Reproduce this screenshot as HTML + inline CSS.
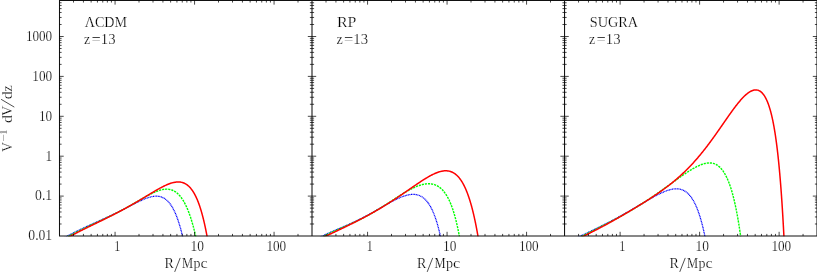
<!DOCTYPE html>
<html><head><meta charset="utf-8"><title>chart</title>
<style>html,body{margin:0;padding:0;background:#fff;overflow:hidden}body{width:817px;height:272px;font-family:"Liberation Serif",serif}.t,.t text,.t tspan{font-family:"Liberation Serif",serif}</style>
</head><body>
<svg width="817" height="272" viewBox="0 0 817 272" style="display:block">
<rect width="817" height="272" fill="#fff"/>
<clipPath id="c"><rect x="59.5" y="0" width="757.5" height="236.3"/></clipPath>
<g clip-path="url(#c)" fill="none">
<path d="M58.90 240.45 L59.51 240.12 L60.13 239.78 L60.74 239.45 L61.36 239.11 L61.97 238.78 L62.59 238.45 L63.20 238.12 L63.82 237.79 L64.44 237.46 L65.06 237.13 L65.68 236.80 L66.30 236.48 L66.92 236.16 L67.54 235.83 L68.16 235.51 L68.78 235.19 L69.40 234.87 L70.03 234.55 L70.65 234.24 L71.27 233.92 L71.90 233.60 L72.52 233.29 L73.15 232.98 L73.78 232.67 L74.40 232.36 L75.03 232.05 L75.66 231.74 L76.29 231.43 L76.92 231.13 L77.55 230.82 L78.18 230.52 L78.81 230.21 L79.44 229.91 L80.07 229.61 L80.70 229.31 L81.34 229.01 L81.97 228.71 L82.60 228.42 L83.24 228.12 L83.87 227.82 L84.51 227.53 L85.14 227.23 L85.78 226.94 L86.41 226.65 L87.05 226.36 L87.68 226.06 L88.32 225.77 L88.96 225.48 L89.59 225.19 L90.23 224.90 L90.87 224.61 L91.51 224.33 L92.14 224.04 L92.78 223.75 L93.42 223.46 L94.06 223.17 L94.70 222.89 L95.33 222.60 L95.97 222.31 L96.61 222.02 L97.25 221.74 L97.89 221.45 L98.53 221.16 L99.16 220.87 L99.80 220.59 L100.44 220.30 L101.08 220.01 L101.72 219.72 L102.35 219.43 L102.99 219.14 L103.63 218.85 L104.26 218.56 L104.90 218.27 L105.54 217.98 L106.17 217.69 L106.81 217.39 L107.45 217.10 L108.08 216.80 L108.72 216.51 L109.35 216.21 L109.98 215.92 L110.62 215.62 L111.25 215.32 L111.88 215.02 L112.52 214.72 L113.15 214.42 L113.78 214.12 L114.41 213.81 L115.04 213.51 L115.67 213.20 L116.30 212.90 L116.93 212.59 L117.56 212.28 L118.19 211.97 L118.82 211.66 L119.44 211.35 L120.07 211.04 L120.70 210.73 L121.32 210.41 L121.95 210.10 L122.57 209.79 L123.20 209.47 L123.82 209.15 L124.45 208.84 L125.07 208.52 L125.70 208.20 L126.32 207.88 L126.94 207.56 L127.57 207.24 L128.19 206.92 L128.81 206.60 L129.43 206.28 L130.06 205.96 L130.68 205.64 L131.30 205.32 L131.92 205.00 L132.55 204.68 L133.17 204.36 L133.79 204.05 L134.42 203.73 L135.04 203.42 L135.67 203.10 L136.29 202.79 L136.92 202.48 L137.55 202.17 L138.18 201.86 L138.81 201.56 L139.44 201.26 L140.07 200.96 L140.70 200.66 L141.34 200.37 L141.98 200.09 L142.62 199.80 L143.26 199.53 L143.90 199.26 L144.55 198.99 L145.20 198.73 L145.85 198.48 L146.50 198.23 L147.16 198.00 L147.82 197.77 L148.48 197.56 L149.15 197.35 L149.82 197.16 L150.50 196.98 L151.17 196.81 L151.86 196.66 L152.54 196.53 L153.23 196.42 L153.92 196.32 L154.62 196.25 L155.31 196.20 L156.01 196.17 L156.71 196.18 L157.41 196.20 L158.11 196.26 L158.81 196.35 L159.50 196.47 L160.19 196.63 L160.87 196.82 L161.54 197.04 L162.19 197.29 L162.84 197.58 L163.47 197.89 L164.09 198.24 L164.70 198.62 L165.28 199.02 L165.85 199.44 L166.40 199.89 L166.94 200.36 L167.46 200.84 L167.96 201.35 L168.44 201.87 L168.91 202.40 L169.37 202.95 L169.81 203.50 L170.24 204.07 L170.65 204.65 L171.05 205.24 L171.44 205.83 L171.82 206.43 L172.19 207.04 L172.55 207.65 L172.90 208.27 L173.23 208.89 L173.56 209.52 L173.89 210.15 L174.20 210.78 L174.51 211.42 L174.81 212.06 L175.10 212.71 L175.38 213.36 L175.66 214.01 L175.93 214.66 L176.20 215.31 L176.46 215.97 L176.72 216.63 L176.97 217.29 L177.22 217.95 L177.46 218.61 L177.70 219.28 L177.93 219.95 L178.16 220.61 L178.38 221.28 L178.60 221.95 L178.82 222.62 L179.03 223.30 L179.24 223.97 L179.45 224.64 L179.65 225.32 L179.85 226.00 L180.05 226.67 L180.25 227.35 L180.44 228.03 L180.63 228.71 L180.81 229.39 L180.99 230.07 L181.18 230.75 L181.35 231.43 L181.53 232.11 L181.70 232.80 L181.87 233.48 L182.04 234.16 L182.21 234.85 L182.38 235.53 L182.54 236.22 L182.70 236.90 L182.86 237.59 L183.02 238.27 L183.17 238.96 L183.32 239.65 L183.48 240.33 L183.63 241.02" stroke="#0000ff" stroke-width="1.25" stroke-dasharray="1.05 0.55"/>
<path d="M59.80 241.19 L60.40 240.83 L61.01 240.48 L61.61 240.13 L62.22 239.78 L62.83 239.43 L63.43 239.09 L64.04 238.74 L64.65 238.40 L65.26 238.06 L65.87 237.72 L66.48 237.38 L67.10 237.04 L67.71 236.71 L68.33 236.37 L68.94 236.04 L69.56 235.71 L70.17 235.38 L70.79 235.05 L71.41 234.72 L72.03 234.40 L72.65 234.07 L73.27 233.75 L73.89 233.43 L74.51 233.11 L75.14 232.79 L75.76 232.47 L76.38 232.16 L77.01 231.84 L77.64 231.53 L78.26 231.22 L78.89 230.91 L79.52 230.60 L80.14 230.29 L80.77 229.98 L81.40 229.67 L82.03 229.37 L82.66 229.06 L83.29 228.76 L83.92 228.46 L84.55 228.15 L85.18 227.85 L85.82 227.55 L86.45 227.25 L87.08 226.96 L87.72 226.66 L88.35 226.36 L88.98 226.06 L89.62 225.77 L90.25 225.47 L90.89 225.18 L91.52 224.88 L92.16 224.59 L92.79 224.29 L93.43 224.00 L94.06 223.70 L94.70 223.41 L95.33 223.12 L95.97 222.82 L96.60 222.53 L97.24 222.23 L97.87 221.94 L98.51 221.65 L99.14 221.35 L99.78 221.06 L100.41 220.76 L101.05 220.47 L101.68 220.17 L102.32 219.88 L102.95 219.58 L103.59 219.28 L104.22 218.98 L104.85 218.68 L105.49 218.39 L106.12 218.09 L106.75 217.78 L107.38 217.48 L108.01 217.18 L108.64 216.88 L109.27 216.57 L109.91 216.27 L110.53 215.96 L111.16 215.65 L111.79 215.34 L112.42 215.03 L113.05 214.72 L113.67 214.41 L114.30 214.10 L114.93 213.78 L115.55 213.47 L116.18 213.15 L116.80 212.83 L117.42 212.51 L118.05 212.19 L118.67 211.87 L119.29 211.55 L119.91 211.22 L120.53 210.90 L121.15 210.57 L121.77 210.24 L122.39 209.91 L123.00 209.58 L123.62 209.25 L124.23 208.91 L124.85 208.58 L125.46 208.24 L126.08 207.90 L126.69 207.56 L127.30 207.22 L127.91 206.88 L128.53 206.54 L129.14 206.20 L129.75 205.85 L130.36 205.51 L130.96 205.16 L131.57 204.82 L132.18 204.47 L132.79 204.12 L133.40 203.77 L134.00 203.42 L134.61 203.07 L135.21 202.72 L135.82 202.37 L136.43 202.02 L137.03 201.67 L137.64 201.32 L138.24 200.97 L138.85 200.62 L139.45 200.26 L140.06 199.91 L140.67 199.56 L141.27 199.21 L141.88 198.86 L142.48 198.52 L143.09 198.17 L143.70 197.82 L144.31 197.48 L144.92 197.14 L145.53 196.79 L146.14 196.46 L146.75 196.12 L147.37 195.78 L147.98 195.45 L148.60 195.12 L149.22 194.80 L149.84 194.47 L150.46 194.16 L151.09 193.84 L151.71 193.53 L152.34 193.23 L152.97 192.93 L153.61 192.64 L154.24 192.35 L154.88 192.07 L155.52 191.80 L156.17 191.53 L156.82 191.28 L157.47 191.03 L158.13 190.79 L158.79 190.57 L159.46 190.36 L160.12 190.16 L160.80 189.97 L161.47 189.80 L162.16 189.65 L162.84 189.51 L163.53 189.40 L164.22 189.30 L164.92 189.23 L165.61 189.18 L166.31 189.16 L167.01 189.16 L167.71 189.19 L168.41 189.25 L169.11 189.34 L169.80 189.46 L170.48 189.61 L171.16 189.80 L171.84 190.01 L172.50 190.26 L173.15 190.54 L173.78 190.85 L174.40 191.19 L175.01 191.55 L175.61 191.94 L176.18 192.35 L176.74 192.79 L177.29 193.24 L177.82 193.71 L178.34 194.20 L178.84 194.71 L179.32 195.22 L179.79 195.76 L180.25 196.30 L180.69 196.85 L181.12 197.42 L181.54 197.99 L181.95 198.57 L182.35 199.16 L182.74 199.75 L183.11 200.35 L183.48 200.96 L183.84 201.57 L184.19 202.19 L184.53 202.81 L184.86 203.43 L185.18 204.06 L185.50 204.69 L185.81 205.33 L186.12 205.97 L186.41 206.61 L186.71 207.25 L186.99 207.90 L187.27 208.55 L187.55 209.20 L187.82 209.85 L188.08 210.50 L188.34 211.16 L188.60 211.82 L188.85 212.48 L189.09 213.14 L189.34 213.80 L189.57 214.47 L189.81 215.13 L190.04 215.80 L190.27 216.47 L190.49 217.14 L190.71 217.81 L190.93 218.48 L191.14 219.15 L191.35 219.82 L191.56 220.49 L191.76 221.17 L191.97 221.84 L192.16 222.52 L192.36 223.20 L192.56 223.87 L192.75 224.55 L192.94 225.23 L193.12 225.91 L193.31 226.59 L193.49 227.27 L193.67 227.95 L193.85 228.63 L194.02 229.31 L194.20 229.99 L194.37 230.67 L194.54 231.36 L194.71 232.04 L194.87 232.72 L195.04 233.41 L195.20 234.09 L195.36 234.78 L195.52 235.46 L195.68 236.15 L195.84 236.83 L195.99 237.52 L196.14 238.21 L196.29 238.89 L196.44 239.58 L196.59 240.27 L196.74 240.95" stroke="#00ff00" stroke-width="1.4" stroke-dasharray="2.15 0.95"/>
<path d="M65.00 239.17 L65.61 238.83 L66.22 238.48 L66.83 238.14 L67.44 237.80 L68.05 237.46 L68.66 237.12 L69.27 236.78 L69.89 236.45 L70.50 236.11 L71.12 235.78 L71.73 235.45 L72.35 235.12 L72.97 234.79 L73.58 234.46 L74.20 234.13 L74.82 233.81 L75.44 233.48 L76.06 233.16 L76.68 232.84 L77.31 232.52 L77.93 232.20 L78.55 231.88 L79.17 231.56 L79.80 231.24 L80.42 230.93 L81.05 230.61 L81.67 230.30 L82.30 229.98 L82.92 229.67 L83.55 229.36 L84.18 229.05 L84.80 228.74 L85.43 228.43 L86.06 228.12 L86.69 227.81 L87.31 227.50 L87.94 227.19 L88.57 226.88 L89.20 226.58 L89.83 226.27 L90.46 225.96 L91.09 225.66 L91.72 225.35 L92.35 225.04 L92.98 224.74 L93.61 224.43 L94.24 224.13 L94.87 223.82 L95.50 223.52 L96.13 223.21 L96.76 222.91 L97.39 222.60 L98.02 222.30 L98.65 221.99 L99.28 221.69 L99.91 221.38 L100.53 221.07 L101.16 220.77 L101.79 220.46 L102.42 220.15 L103.05 219.85 L103.68 219.54 L104.31 219.23 L104.94 218.92 L105.57 218.61 L106.19 218.30 L106.82 217.99 L107.45 217.68 L108.08 217.37 L108.70 217.06 L109.33 216.75 L109.96 216.43 L110.58 216.12 L111.21 215.80 L111.83 215.49 L112.46 215.17 L113.08 214.85 L113.70 214.54 L114.33 214.22 L114.95 213.90 L115.57 213.58 L116.20 213.26 L116.82 212.93 L117.44 212.61 L118.06 212.29 L118.68 211.96 L119.30 211.64 L119.92 211.31 L120.54 210.98 L121.16 210.65 L121.77 210.32 L122.39 209.99 L123.01 209.66 L123.62 209.33 L124.24 208.99 L124.85 208.66 L125.47 208.32 L126.08 207.98 L126.69 207.64 L127.31 207.30 L127.92 206.96 L128.53 206.62 L129.14 206.28 L129.75 205.94 L130.36 205.59 L130.97 205.25 L131.58 204.90 L132.19 204.55 L132.80 204.21 L133.40 203.86 L134.01 203.51 L134.62 203.15 L135.22 202.80 L135.83 202.45 L136.43 202.10 L137.03 201.74 L137.64 201.39 L138.24 201.03 L138.84 200.67 L139.44 200.32 L140.05 199.96 L140.65 199.60 L141.25 199.24 L141.85 198.88 L142.45 198.52 L143.05 198.16 L143.65 197.80 L144.25 197.44 L144.85 197.08 L145.45 196.71 L146.05 196.35 L146.65 195.99 L147.25 195.63 L147.85 195.27 L148.44 194.90 L149.04 194.54 L149.64 194.18 L150.24 193.82 L150.84 193.46 L151.44 193.10 L152.04 192.74 L152.65 192.39 L153.25 192.03 L153.85 191.67 L154.45 191.32 L155.06 190.96 L155.66 190.61 L156.27 190.26 L156.87 189.91 L157.48 189.57 L158.09 189.22 L158.70 188.88 L159.31 188.54 L159.92 188.21 L160.54 187.88 L161.16 187.55 L161.78 187.22 L162.40 186.90 L163.02 186.58 L163.64 186.27 L164.27 185.97 L164.90 185.67 L165.54 185.37 L166.17 185.08 L166.81 184.80 L167.45 184.53 L168.10 184.26 L168.75 184.01 L169.40 183.76 L170.06 183.53 L170.72 183.31 L171.39 183.09 L172.06 182.90 L172.73 182.72 L173.41 182.55 L174.09 182.40 L174.77 182.27 L175.46 182.16 L176.16 182.08 L176.85 182.01 L177.55 181.97 L178.25 181.96 L178.95 181.98 L179.65 182.03 L180.35 182.11 L181.04 182.22 L181.73 182.36 L182.41 182.54 L183.08 182.76 L183.74 183.00 L184.39 183.28 L185.03 183.59 L185.65 183.93 L186.26 184.30 L186.85 184.70 L187.42 185.12 L187.97 185.56 L188.51 186.03 L189.03 186.51 L189.53 187.02 L190.02 187.53 L190.49 188.07 L190.95 188.61 L191.39 189.17 L191.82 189.73 L192.24 190.31 L192.64 190.90 L193.03 191.49 L193.41 192.09 L193.78 192.70 L194.14 193.31 L194.48 193.93 L194.82 194.55 L195.15 195.18 L195.47 195.81 L195.79 196.44 L196.09 197.08 L196.39 197.73 L196.68 198.37 L196.97 199.02 L197.25 199.67 L197.52 200.32 L197.78 200.98 L198.05 201.63 L198.30 202.29 L198.55 202.95 L198.80 203.62 L199.04 204.28 L199.27 204.95 L199.50 205.61 L199.73 206.28 L199.95 206.95 L200.17 207.62 L200.39 208.30 L200.60 208.97 L200.81 209.64 L201.01 210.32 L201.22 210.99 L201.41 211.67 L201.61 212.35 L201.80 213.03 L201.99 213.71 L202.18 214.39 L202.36 215.07 L202.54 215.75 L202.72 216.43 L202.90 217.11 L203.07 217.79 L203.24 218.48 L203.41 219.16 L203.58 219.84 L203.75 220.53 L203.91 221.21 L204.07 221.90 L204.23 222.59 L204.39 223.27 L204.54 223.96 L204.69 224.64 L204.84 225.33 L204.99 226.02 L205.14 226.71 L205.29 227.40 L205.43 228.08 L205.58 228.77 L205.72 229.46 L205.86 230.15 L206.00 230.84 L206.13 231.53 L206.27 232.22 L206.40 232.91 L206.54 233.60 L206.67 234.29 L206.80 234.98 L206.93 235.68 L207.05 236.37 L207.18 237.06 L207.31 237.75 L207.43 238.44 L207.55 239.13 L207.68 239.83 L207.80 240.52 L207.92 241.21" stroke="#ff0000" stroke-width="1.5"/>
<path d="M314.50 240.49 L315.09 240.13 L315.69 239.77 L316.29 239.41 L316.90 239.06 L317.50 238.71 L318.11 238.36 L318.72 238.02 L319.33 237.69 L319.95 237.36 L320.56 237.03 L321.18 236.70 L321.80 236.38 L322.43 236.06 L323.05 235.75 L323.68 235.44 L324.31 235.13 L324.93 234.83 L325.57 234.53 L326.20 234.23 L326.83 233.93 L327.47 233.64 L328.10 233.34 L328.74 233.05 L329.38 232.77 L330.01 232.48 L330.65 232.19 L331.29 231.91 L331.93 231.63 L332.57 231.35 L333.22 231.07 L333.86 230.79 L334.50 230.52 L335.14 230.24 L335.79 229.97 L336.43 229.69 L337.08 229.42 L337.72 229.14 L338.36 228.87 L339.01 228.59 L339.65 228.32 L340.30 228.05 L340.94 227.77 L341.58 227.50 L342.23 227.22 L342.87 226.95 L343.51 226.67 L344.16 226.39 L344.80 226.12 L345.44 225.84 L346.08 225.56 L346.73 225.28 L347.37 224.99 L348.01 224.71 L348.65 224.43 L349.29 224.14 L349.93 223.86 L350.56 223.57 L351.20 223.28 L351.84 222.99 L352.48 222.69 L353.11 222.40 L353.75 222.10 L354.38 221.81 L355.01 221.51 L355.65 221.21 L356.28 220.91 L356.91 220.60 L357.54 220.30 L358.17 219.99 L358.80 219.68 L359.43 219.37 L360.05 219.06 L360.68 218.74 L361.30 218.43 L361.93 218.11 L362.55 217.79 L363.18 217.47 L363.80 217.15 L364.42 216.83 L365.04 216.50 L365.66 216.18 L366.28 215.85 L366.90 215.52 L367.51 215.19 L368.13 214.86 L368.75 214.52 L369.36 214.19 L369.98 213.85 L370.59 213.52 L371.20 213.18 L371.82 212.84 L372.43 212.50 L373.04 212.16 L373.65 211.81 L374.26 211.47 L374.87 211.13 L375.48 210.78 L376.09 210.44 L376.70 210.09 L377.31 209.74 L377.91 209.40 L378.52 209.05 L379.13 208.70 L379.74 208.35 L380.34 208.00 L380.95 207.66 L381.56 207.31 L382.17 206.96 L382.77 206.61 L383.38 206.26 L383.99 205.92 L384.60 205.57 L385.21 205.23 L385.81 204.88 L386.42 204.54 L387.03 204.19 L387.64 203.85 L388.26 203.51 L388.87 203.17 L389.48 202.84 L390.09 202.50 L390.71 202.17 L391.32 201.84 L391.94 201.51 L392.56 201.18 L393.18 200.86 L393.80 200.54 L394.42 200.22 L395.05 199.90 L395.67 199.59 L396.30 199.29 L396.93 198.99 L397.57 198.69 L398.20 198.40 L398.84 198.11 L399.48 197.83 L400.12 197.56 L400.77 197.29 L401.41 197.03 L402.06 196.77 L402.72 196.53 L403.38 196.29 L404.04 196.07 L404.70 195.85 L405.37 195.65 L406.04 195.45 L406.71 195.27 L407.39 195.11 L408.07 194.95 L408.76 194.82 L409.45 194.70 L410.14 194.60 L410.83 194.51 L411.53 194.45 L412.22 194.41 L412.92 194.39 L413.62 194.40 L414.32 194.43 L415.02 194.49 L415.72 194.58 L416.41 194.70 L417.10 194.84 L417.78 195.02 L418.45 195.23 L419.12 195.46 L419.77 195.73 L420.41 196.03 L421.04 196.35 L421.66 196.70 L422.26 197.08 L422.84 197.48 L423.41 197.90 L423.96 198.35 L424.50 198.82 L425.02 199.30 L425.53 199.80 L426.02 200.31 L426.49 200.84 L426.95 201.38 L427.40 201.94 L427.83 202.50 L428.25 203.07 L428.66 203.66 L429.05 204.25 L429.43 204.84 L429.81 205.45 L430.17 206.06 L430.52 206.68 L430.86 207.30 L431.20 207.92 L431.52 208.55 L431.84 209.19 L432.15 209.82 L432.45 210.47 L432.74 211.11 L433.03 211.76 L433.31 212.41 L433.58 213.06 L433.85 213.72 L434.11 214.37 L434.36 215.03 L434.61 215.69 L434.86 216.36 L435.10 217.02 L435.33 217.69 L435.57 218.36 L435.79 219.03 L436.01 219.70 L436.23 220.37 L436.45 221.04 L436.66 221.71 L436.86 222.39 L437.07 223.07 L437.26 223.74 L437.46 224.42 L437.65 225.10 L437.84 225.78 L438.03 226.46 L438.21 227.14 L438.39 227.82 L438.57 228.50 L438.75 229.19 L438.92 229.87 L439.09 230.55 L439.26 231.24 L439.42 231.92 L439.59 232.61 L439.75 233.29 L439.91 233.98 L440.06 234.67 L440.22 235.35 L440.37 236.04 L440.52 236.73 L440.67 237.42 L440.81 238.11 L440.96 238.80 L441.10 239.49 L441.24 240.18 L441.38 240.87" stroke="#0000ff" stroke-width="1.25" stroke-dasharray="1.05 0.55"/>
<path d="M315.40 241.45 L315.98 241.06 L316.56 240.67 L317.14 240.29 L317.73 239.91 L318.32 239.53 L318.91 239.16 L319.50 238.80 L320.10 238.44 L320.70 238.08 L321.30 237.73 L321.91 237.38 L322.52 237.03 L323.13 236.69 L323.74 236.36 L324.36 236.02 L324.97 235.70 L325.59 235.37 L326.21 235.05 L326.83 234.73 L327.46 234.41 L328.08 234.10 L328.71 233.79 L329.34 233.49 L329.97 233.18 L330.60 232.88 L331.23 232.58 L331.86 232.28 L332.50 231.99 L333.13 231.70 L333.77 231.41 L334.41 231.12 L335.04 230.83 L335.68 230.54 L336.32 230.26 L336.96 229.97 L337.60 229.69 L338.24 229.41 L338.88 229.13 L339.52 228.85 L340.17 228.57 L340.81 228.29 L341.45 228.01 L342.09 227.73 L342.73 227.45 L343.37 227.17 L344.02 226.89 L344.66 226.61 L345.30 226.33 L345.94 226.05 L346.58 225.76 L347.22 225.48 L347.86 225.20 L348.50 224.91 L349.14 224.63 L349.78 224.34 L350.42 224.06 L351.06 223.77 L351.69 223.48 L352.33 223.19 L352.97 222.89 L353.60 222.60 L354.24 222.30 L354.87 222.00 L355.51 221.71 L356.14 221.40 L356.77 221.10 L357.40 220.80 L358.03 220.49 L358.66 220.18 L359.29 219.87 L359.92 219.56 L360.54 219.25 L361.17 218.93 L361.79 218.62 L362.42 218.30 L363.04 217.98 L363.66 217.65 L364.28 217.33 L364.90 217.00 L365.52 216.67 L366.14 216.34 L366.75 216.01 L367.37 215.67 L367.98 215.34 L368.60 215.00 L369.21 214.66 L369.82 214.32 L370.43 213.97 L371.04 213.63 L371.65 213.28 L372.26 212.93 L372.86 212.58 L373.47 212.23 L374.07 211.87 L374.68 211.52 L375.28 211.16 L375.88 210.80 L376.48 210.44 L377.08 210.08 L377.68 209.72 L378.28 209.35 L378.87 208.99 L379.47 208.62 L380.07 208.25 L380.66 207.88 L381.26 207.51 L381.85 207.14 L382.44 206.77 L383.03 206.39 L383.63 206.02 L384.22 205.64 L384.81 205.26 L385.40 204.89 L385.99 204.51 L386.58 204.13 L387.16 203.75 L387.75 203.37 L388.34 202.99 L388.93 202.61 L389.52 202.23 L390.10 201.85 L390.69 201.47 L391.28 201.09 L391.87 200.71 L392.45 200.32 L393.04 199.94 L393.63 199.56 L394.21 199.18 L394.80 198.80 L395.39 198.42 L395.98 198.04 L396.57 197.67 L397.16 197.29 L397.74 196.91 L398.33 196.53 L398.93 196.16 L399.52 195.79 L400.11 195.41 L400.70 195.04 L401.30 194.67 L401.89 194.31 L402.49 193.94 L403.08 193.58 L403.68 193.22 L404.28 192.86 L404.88 192.50 L405.49 192.14 L406.09 191.79 L406.70 191.44 L407.30 191.10 L407.91 190.76 L408.52 190.42 L409.14 190.08 L409.75 189.75 L410.37 189.42 L410.99 189.10 L411.61 188.78 L412.24 188.47 L412.86 188.16 L413.50 187.86 L414.13 187.57 L414.76 187.28 L415.40 187.00 L416.05 186.72 L416.69 186.46 L417.34 186.20 L417.99 185.95 L418.65 185.71 L419.31 185.48 L419.97 185.26 L420.64 185.05 L421.31 184.86 L421.98 184.68 L422.66 184.51 L423.34 184.35 L424.02 184.21 L424.71 184.09 L425.40 183.98 L426.09 183.89 L426.79 183.83 L427.49 183.78 L428.19 183.75 L428.89 183.75 L429.59 183.77 L430.28 183.81 L430.98 183.88 L431.68 183.98 L432.37 184.10 L433.06 184.25 L433.74 184.43 L434.41 184.64 L435.07 184.87 L435.73 185.13 L436.37 185.42 L437.01 185.73 L437.63 186.07 L438.24 186.44 L438.83 186.82 L439.41 187.23 L439.97 187.66 L440.52 188.11 L441.06 188.57 L441.58 189.06 L442.08 189.55 L442.58 190.07 L443.05 190.59 L443.52 191.13 L443.97 191.68 L444.41 192.24 L444.83 192.81 L445.24 193.38 L445.65 193.97 L446.04 194.56 L446.42 195.16 L446.78 195.77 L447.14 196.38 L447.49 196.99 L447.84 197.61 L448.17 198.24 L448.49 198.87 L448.81 199.50 L449.12 200.14 L449.42 200.78 L449.71 201.43 L450.00 202.07 L450.28 202.72 L450.55 203.38 L450.82 204.03 L451.08 204.69 L451.34 205.35 L451.59 206.01 L451.84 206.67 L452.08 207.33 L452.32 208.00 L452.55 208.67 L452.78 209.34 L453.00 210.01 L453.22 210.68 L453.43 211.35 L453.65 212.02 L453.85 212.70 L454.06 213.37 L454.26 214.05 L454.45 214.73 L454.65 215.41 L454.84 216.09 L455.03 216.77 L455.21 217.45 L455.39 218.13 L455.57 218.81 L455.74 219.49 L455.92 220.18 L456.09 220.86 L456.26 221.55 L456.42 222.23 L456.58 222.92 L456.75 223.60 L456.90 224.29 L457.06 224.98 L457.21 225.66 L457.37 226.35 L457.52 227.04 L457.66 227.73 L457.81 228.42 L457.95 229.11 L458.10 229.80 L458.24 230.49 L458.38 231.18 L458.51 231.87 L458.65 232.56 L458.78 233.25 L458.91 233.94 L459.04 234.63 L459.17 235.32 L459.30 236.02 L459.43 236.71 L459.55 237.40 L459.67 238.09 L459.80 238.79 L459.92 239.48 L460.04 240.17 L460.15 240.87" stroke="#00ff00" stroke-width="1.4" stroke-dasharray="2.15 0.95"/>
<path d="M320.70 238.59 L321.33 238.29 L321.96 237.98 L322.59 237.68 L323.22 237.38 L323.86 237.08 L324.49 236.78 L325.12 236.47 L325.75 236.17 L326.38 235.87 L327.02 235.57 L327.65 235.27 L328.28 234.97 L328.91 234.67 L329.55 234.37 L330.18 234.07 L330.81 233.77 L331.44 233.47 L332.08 233.17 L332.71 232.87 L333.34 232.58 L333.97 232.28 L334.61 231.98 L335.24 231.68 L335.87 231.38 L336.50 231.08 L337.14 230.78 L337.77 230.48 L338.40 230.18 L339.03 229.87 L339.67 229.57 L340.30 229.27 L340.93 228.97 L341.56 228.67 L342.19 228.37 L342.82 228.06 L343.45 227.76 L344.09 227.46 L344.72 227.15 L345.35 226.85 L345.98 226.54 L346.61 226.24 L347.24 225.93 L347.87 225.63 L348.49 225.32 L349.12 225.01 L349.75 224.70 L350.38 224.39 L351.01 224.08 L351.64 223.77 L352.26 223.46 L352.89 223.15 L353.52 222.84 L354.14 222.52 L354.77 222.21 L355.39 221.89 L356.02 221.58 L356.64 221.26 L357.27 220.94 L357.89 220.62 L358.51 220.31 L359.14 219.99 L359.76 219.66 L360.38 219.34 L361.00 219.02 L361.62 218.70 L362.24 218.37 L362.86 218.04 L363.48 217.72 L364.10 217.39 L364.72 217.06 L365.34 216.73 L365.95 216.40 L366.57 216.07 L367.19 215.73 L367.80 215.40 L368.42 215.06 L369.03 214.73 L369.64 214.39 L370.26 214.05 L370.87 213.71 L371.48 213.37 L372.09 213.03 L372.70 212.69 L373.31 212.34 L373.92 212.00 L374.53 211.65 L375.14 211.30 L375.75 210.95 L376.35 210.60 L376.96 210.25 L377.56 209.90 L378.17 209.54 L378.77 209.19 L379.38 208.83 L379.98 208.48 L380.58 208.12 L381.18 207.76 L381.78 207.40 L382.38 207.04 L382.98 206.67 L383.58 206.31 L384.18 205.94 L384.77 205.58 L385.37 205.21 L385.97 204.84 L386.56 204.47 L387.15 204.10 L387.75 203.73 L388.34 203.36 L388.93 202.98 L389.52 202.61 L390.11 202.23 L390.71 201.85 L391.29 201.48 L391.88 201.10 L392.47 200.72 L393.06 200.34 L393.65 199.95 L394.23 199.57 L394.82 199.19 L395.40 198.80 L395.99 198.42 L396.57 198.03 L397.16 197.64 L397.74 197.25 L398.32 196.86 L398.90 196.47 L399.48 196.08 L400.06 195.69 L400.64 195.30 L401.22 194.91 L401.80 194.52 L402.38 194.12 L402.96 193.73 L403.54 193.33 L404.12 192.94 L404.70 192.54 L405.27 192.15 L405.85 191.75 L406.43 191.35 L407.00 190.96 L407.58 190.56 L408.16 190.16 L408.73 189.76 L409.31 189.37 L409.88 188.97 L410.46 188.57 L411.04 188.17 L411.61 187.77 L412.19 187.38 L412.77 186.98 L413.34 186.58 L413.92 186.19 L414.50 185.79 L415.07 185.40 L415.65 185.00 L416.23 184.61 L416.81 184.21 L417.39 183.82 L417.97 183.43 L418.55 183.04 L419.13 182.65 L419.71 182.26 L420.29 181.88 L420.88 181.49 L421.46 181.11 L422.05 180.73 L422.64 180.35 L423.23 179.97 L423.82 179.60 L424.41 179.23 L425.00 178.86 L425.60 178.49 L426.19 178.13 L426.79 177.77 L427.39 177.41 L428.00 177.06 L428.60 176.71 L429.21 176.36 L429.82 176.02 L430.43 175.69 L431.05 175.36 L431.67 175.04 L432.29 174.72 L432.92 174.41 L433.55 174.11 L434.18 173.81 L434.81 173.53 L435.45 173.25 L436.10 172.98 L436.75 172.72 L437.40 172.48 L438.06 172.24 L438.72 172.02 L439.39 171.82 L440.06 171.62 L440.73 171.45 L441.41 171.29 L442.10 171.15 L442.78 171.04 L443.48 170.94 L444.17 170.87 L444.87 170.82 L445.57 170.80 L446.27 170.80 L446.97 170.84 L447.66 170.90 L448.36 171.00 L449.05 171.13 L449.74 171.29 L450.41 171.48 L451.08 171.71 L451.74 171.97 L452.38 172.26 L453.02 172.58 L453.63 172.92 L454.24 173.30 L454.82 173.69 L455.39 174.11 L455.95 174.56 L456.49 175.02 L457.01 175.50 L457.52 176.00 L458.01 176.51 L458.49 177.03 L458.95 177.57 L459.41 178.12 L459.84 178.68 L460.27 179.25 L460.68 179.83 L461.08 180.41 L461.47 181.00 L461.85 181.60 L462.22 182.21 L462.58 182.82 L462.93 183.43 L463.27 184.05 L463.61 184.68 L463.93 185.31 L464.25 185.94 L464.56 186.58 L464.87 187.21 L465.17 187.86 L465.46 188.50 L465.74 189.15 L466.02 189.80 L466.30 190.45 L466.56 191.10 L466.83 191.76 L467.09 192.41 L467.34 193.07 L467.59 193.73 L467.83 194.40 L468.07 195.06 L468.31 195.72 L468.54 196.39 L468.77 197.06 L469.00 197.73 L469.22 198.40 L469.43 199.07 L469.65 199.74 L469.86 200.41 L470.07 201.09 L470.27 201.76 L470.47 202.44 L470.67 203.11 L470.87 203.79 L471.06 204.47 L471.25 205.14 L471.44 205.82 L471.63 206.50 L471.81 207.18 L471.99 207.86 L472.17 208.54 L472.35 209.23 L472.52 209.91 L472.69 210.59 L472.86 211.27 L473.03 211.96 L473.20 212.64 L473.36 213.32 L473.52 214.01 L473.69 214.69 L473.84 215.38 L474.00 216.07 L474.16 216.75 L474.31 217.44 L474.46 218.13 L474.61 218.81 L474.76 219.50 L474.91 220.19 L475.06 220.88 L475.20 221.56 L475.34 222.25 L475.49 222.94 L475.63 223.63 L475.76 224.32 L475.90 225.01 L476.04 225.70 L476.17 226.39 L476.31 227.08 L476.44 227.77 L476.57 228.46 L476.70 229.15 L476.83 229.84 L476.96 230.53 L477.09 231.22 L477.21 231.91 L477.34 232.61 L477.46 233.30 L477.58 233.99 L477.71 234.68 L477.83 235.37 L477.95 236.07 L478.07 236.76 L478.18 237.45 L478.30 238.14 L478.42 238.84 L478.53 239.53 L478.65 240.22 L478.76 240.91" stroke="#ff0000" stroke-width="1.5"/>
<path d="M572.30 239.82 L572.93 239.53 L573.57 239.23 L574.20 238.93 L574.84 238.64 L575.47 238.34 L576.11 238.05 L576.74 237.75 L577.38 237.46 L578.01 237.16 L578.65 236.87 L579.28 236.57 L579.91 236.27 L580.55 235.98 L581.18 235.68 L581.82 235.39 L582.45 235.09 L583.09 234.79 L583.72 234.50 L584.35 234.20 L584.99 233.90 L585.62 233.60 L586.25 233.30 L586.89 233.01 L587.52 232.71 L588.15 232.41 L588.79 232.11 L589.42 231.81 L590.05 231.51 L590.68 231.21 L591.31 230.90 L591.95 230.60 L592.58 230.30 L593.21 230.00 L593.84 229.69 L594.47 229.39 L595.10 229.08 L595.73 228.78 L596.36 228.47 L596.99 228.16 L597.62 227.85 L598.24 227.55 L598.87 227.24 L599.50 226.93 L600.13 226.62 L600.76 226.30 L601.38 225.99 L602.01 225.68 L602.64 225.37 L603.26 225.05 L603.89 224.74 L604.51 224.42 L605.14 224.10 L605.76 223.79 L606.38 223.47 L607.01 223.15 L607.63 222.83 L608.25 222.51 L608.87 222.19 L609.50 221.86 L610.12 221.54 L610.74 221.22 L611.36 220.89 L611.98 220.57 L612.60 220.24 L613.22 219.91 L613.83 219.58 L614.45 219.25 L615.07 218.92 L615.69 218.59 L616.30 218.26 L616.92 217.93 L617.53 217.59 L618.15 217.26 L618.76 216.92 L619.38 216.59 L619.99 216.25 L620.61 215.91 L621.22 215.57 L621.83 215.23 L622.44 214.89 L623.05 214.55 L623.67 214.21 L624.28 213.87 L624.89 213.53 L625.50 213.18 L626.11 212.84 L626.72 212.49 L627.32 212.15 L627.93 211.80 L628.54 211.45 L629.15 211.10 L629.76 210.75 L630.36 210.40 L630.97 210.05 L631.57 209.70 L632.18 209.35 L632.79 209.00 L633.39 208.65 L634.00 208.30 L634.60 207.94 L635.21 207.59 L635.81 207.24 L636.41 206.88 L637.02 206.53 L637.62 206.18 L638.23 205.82 L638.83 205.47 L639.43 205.11 L640.04 204.76 L640.64 204.40 L641.24 204.05 L641.85 203.69 L642.45 203.34 L643.05 202.98 L643.66 202.63 L644.26 202.28 L644.86 201.92 L645.47 201.57 L646.07 201.22 L646.68 200.87 L647.28 200.51 L647.89 200.16 L648.50 199.82 L649.10 199.47 L649.71 199.12 L650.32 198.77 L650.93 198.43 L651.54 198.09 L652.15 197.74 L652.76 197.40 L653.37 197.07 L653.98 196.73 L654.60 196.40 L655.21 196.06 L655.83 195.74 L656.45 195.41 L657.07 195.09 L657.69 194.77 L658.31 194.45 L658.94 194.14 L659.57 193.83 L660.19 193.52 L660.83 193.22 L661.46 192.92 L662.09 192.63 L662.73 192.35 L663.37 192.07 L664.02 191.80 L664.66 191.53 L665.31 191.27 L665.96 191.02 L666.62 190.78 L667.28 190.55 L667.94 190.33 L668.60 190.12 L669.27 189.92 L669.95 189.73 L670.62 189.56 L671.30 189.40 L671.98 189.26 L672.67 189.13 L673.36 189.02 L674.05 188.93 L674.75 188.87 L675.45 188.82 L676.15 188.80 L676.85 188.80 L677.55 188.83 L678.25 188.89 L678.94 188.98 L679.63 189.09 L680.32 189.24 L681.00 189.42 L681.68 189.63 L682.34 189.87 L682.99 190.14 L683.63 190.44 L684.26 190.77 L684.87 191.13 L685.47 191.51 L686.05 191.92 L686.61 192.35 L687.16 192.80 L687.69 193.27 L688.21 193.76 L688.71 194.26 L689.19 194.78 L689.66 195.32 L690.12 195.86 L690.56 196.42 L690.99 196.99 L691.41 197.56 L691.81 198.15 L692.20 198.74 L692.58 199.34 L692.95 199.94 L693.31 200.55 L693.66 201.17 L694.00 201.79 L694.33 202.42 L694.66 203.05 L694.97 203.68 L695.28 204.32 L695.58 204.96 L695.88 205.60 L696.16 206.25 L696.45 206.90 L696.72 207.55 L696.99 208.21 L697.25 208.86 L697.51 209.52 L697.76 210.18 L698.01 210.84 L698.25 211.51 L698.49 212.17 L698.72 212.84 L698.95 213.51 L699.18 214.17 L699.40 214.85 L699.62 215.52 L699.83 216.19 L700.04 216.86 L700.25 217.54 L700.45 218.21 L700.65 218.89 L700.85 219.57 L701.04 220.24 L701.23 220.92 L701.42 221.60 L701.61 222.28 L701.79 222.96 L701.97 223.64 L702.15 224.33 L702.32 225.01 L702.50 225.69 L702.67 226.37 L702.84 227.06 L703.00 227.74 L703.17 228.43 L703.33 229.11 L703.49 229.80 L703.65 230.48 L703.80 231.17 L703.96 231.86 L704.11 232.54 L704.26 233.23 L704.41 233.92 L704.55 234.61 L704.70 235.30 L704.84 235.99 L704.98 236.67 L705.13 237.36 L705.26 238.05 L705.40 238.74 L705.54 239.43 L705.67 240.12 L705.81 240.81" stroke="#0000ff" stroke-width="1.25" stroke-dasharray="1.05 0.55"/>
<path d="M573.20 240.84 L573.81 240.51 L574.43 240.17 L575.05 239.84 L575.66 239.51 L576.28 239.18 L576.90 238.85 L577.51 238.52 L578.13 238.20 L578.75 237.87 L579.37 237.55 L579.99 237.22 L580.61 236.90 L581.24 236.58 L581.86 236.26 L582.48 235.94 L583.10 235.62 L583.72 235.30 L584.35 234.98 L584.97 234.66 L585.60 234.35 L586.22 234.03 L586.84 233.71 L587.47 233.40 L588.09 233.08 L588.72 232.77 L589.34 232.45 L589.97 232.14 L590.60 231.83 L591.22 231.51 L591.85 231.20 L592.47 230.89 L593.10 230.57 L593.73 230.26 L594.35 229.95 L594.98 229.63 L595.60 229.32 L596.23 229.01 L596.86 228.69 L597.48 228.38 L598.11 228.07 L598.73 227.75 L599.36 227.44 L599.98 227.12 L600.61 226.81 L601.24 226.49 L601.86 226.18 L602.49 225.86 L603.11 225.55 L603.73 225.23 L604.36 224.91 L604.98 224.60 L605.61 224.28 L606.23 223.96 L606.85 223.64 L607.48 223.32 L608.10 223.00 L608.72 222.68 L609.34 222.36 L609.96 222.04 L610.59 221.71 L611.21 221.39 L611.83 221.06 L612.45 220.74 L613.07 220.41 L613.69 220.08 L614.30 219.76 L614.92 219.43 L615.54 219.10 L616.16 218.77 L616.77 218.44 L617.39 218.10 L618.01 217.77 L618.62 217.44 L619.24 217.10 L619.85 216.76 L620.46 216.43 L621.08 216.09 L621.69 215.75 L622.30 215.41 L622.91 215.07 L623.53 214.73 L624.14 214.38 L624.75 214.04 L625.35 213.69 L625.96 213.35 L626.57 213.00 L627.18 212.65 L627.79 212.30 L628.39 211.95 L629.00 211.60 L629.60 211.24 L630.21 210.89 L630.81 210.53 L631.41 210.18 L632.01 209.82 L632.62 209.46 L633.22 209.10 L633.82 208.74 L634.42 208.38 L635.02 208.02 L635.61 207.65 L636.21 207.29 L636.81 206.92 L637.40 206.55 L638.00 206.18 L638.59 205.81 L639.19 205.44 L639.78 205.07 L640.37 204.70 L640.97 204.32 L641.56 203.95 L642.15 203.57 L642.74 203.19 L643.33 202.82 L643.92 202.44 L644.51 202.06 L645.09 201.67 L645.68 201.29 L646.27 200.91 L646.85 200.52 L647.44 200.14 L648.02 199.75 L648.60 199.37 L649.19 198.98 L649.77 198.59 L650.35 198.20 L650.93 197.81 L651.51 197.41 L652.09 197.02 L652.67 196.63 L653.25 196.23 L653.83 195.84 L654.40 195.44 L654.98 195.04 L655.56 194.65 L656.13 194.25 L656.71 193.85 L657.28 193.45 L657.86 193.05 L658.43 192.65 L659.01 192.24 L659.58 191.84 L660.15 191.44 L660.72 191.03 L661.29 190.63 L661.87 190.22 L662.44 189.82 L663.01 189.41 L663.58 189.01 L664.15 188.60 L664.72 188.19 L665.28 187.78 L665.85 187.38 L666.42 186.97 L666.99 186.56 L667.56 186.15 L668.13 185.74 L668.69 185.33 L669.26 184.92 L669.83 184.51 L670.40 184.10 L670.96 183.69 L671.53 183.28 L672.10 182.87 L672.67 182.46 L673.23 182.05 L673.80 181.64 L674.37 181.23 L674.94 180.82 L675.51 180.42 L676.07 180.01 L676.64 179.60 L677.21 179.19 L677.78 178.78 L678.35 178.38 L678.92 177.97 L679.49 177.57 L680.06 177.17 L680.64 176.76 L681.21 176.36 L681.78 175.96 L682.36 175.56 L682.93 175.16 L683.51 174.77 L684.08 174.37 L684.66 173.98 L685.24 173.59 L685.82 173.20 L686.40 172.81 L686.99 172.42 L687.57 172.04 L688.16 171.66 L688.75 171.28 L689.34 170.91 L689.93 170.53 L690.52 170.16 L691.12 169.80 L691.71 169.44 L692.31 169.08 L692.92 168.73 L693.52 168.38 L694.13 168.04 L694.74 167.70 L695.36 167.36 L695.97 167.04 L696.59 166.72 L697.22 166.41 L697.85 166.10 L698.48 165.81 L699.11 165.52 L699.75 165.24 L700.40 164.97 L701.05 164.71 L701.70 164.47 L702.36 164.24 L703.02 164.02 L703.69 163.82 L704.36 163.63 L705.04 163.47 L705.72 163.32 L706.40 163.19 L707.09 163.09 L707.79 163.01 L708.49 162.95 L709.18 162.92 L709.88 162.93 L710.58 162.96 L711.28 163.03 L711.98 163.13 L712.67 163.26 L713.35 163.43 L714.03 163.63 L714.69 163.87 L715.34 164.15 L715.98 164.45 L716.60 164.79 L717.21 165.16 L717.80 165.55 L718.37 165.98 L718.93 166.42 L719.46 166.89 L719.98 167.37 L720.49 167.88 L720.97 168.40 L721.44 168.93 L721.90 169.48 L722.34 170.04 L722.76 170.61 L723.17 171.19 L723.57 171.77 L723.96 172.37 L724.34 172.97 L724.70 173.58 L725.05 174.20 L725.40 174.82 L725.73 175.44 L726.06 176.07 L726.37 176.71 L726.68 177.35 L726.98 177.99 L727.28 178.63 L727.56 179.28 L727.84 179.93 L728.12 180.58 L728.38 181.24 L728.65 181.90 L728.90 182.55 L729.15 183.22 L729.40 183.88 L729.64 184.54 L729.87 185.21 L730.10 185.88 L730.33 186.55 L730.55 187.22 L730.77 187.89 L730.99 188.56 L731.20 189.23 L731.40 189.91 L731.61 190.58 L731.81 191.26 L732.00 191.94 L732.20 192.62 L732.39 193.30 L732.58 193.98 L732.76 194.66 L732.94 195.34 L733.12 196.02 L733.30 196.70 L733.47 197.38 L733.64 198.07 L733.81 198.75 L733.98 199.44 L734.14 200.12 L734.31 200.81 L734.47 201.49 L734.63 202.18 L734.78 202.86 L734.94 203.55 L735.09 204.24 L735.24 204.93 L735.39 205.61 L735.53 206.30 L735.68 206.99 L735.82 207.68 L735.96 208.37 L736.10 209.06 L736.24 209.75 L736.38 210.44 L736.52 211.13 L736.65 211.82 L736.78 212.51 L736.91 213.20 L737.04 213.89 L737.17 214.59 L737.30 215.28 L737.43 215.97 L737.55 216.66 L737.67 217.35 L737.80 218.05 L737.92 218.74 L738.04 219.43 L738.15 220.12 L738.27 220.82 L738.39 221.51 L738.50 222.20 L738.62 222.90 L738.73 223.59 L738.84 224.29 L738.96 224.98 L739.07 225.67 L739.17 226.37 L739.28 227.06 L739.39 227.76 L739.50 228.45 L739.60 229.15 L739.71 229.84 L739.81 230.54 L739.91 231.23 L740.02 231.93 L740.12 232.62 L740.22 233.32 L740.32 234.01 L740.42 234.71 L740.52 235.40 L740.61 236.10 L740.71 236.79 L740.81 237.49 L740.90 238.18 L741.00 238.88 L741.09 239.58 L741.18 240.27 L741.28 240.97" stroke="#00ff00" stroke-width="1.4" stroke-dasharray="2.15 0.95"/>
<path d="M578.10 238.91 L578.72 238.59 L579.35 238.28 L579.97 237.96 L580.60 237.65 L581.23 237.33 L581.85 237.02 L582.48 236.71 L583.10 236.40 L583.73 236.08 L584.36 235.77 L584.98 235.46 L585.61 235.15 L586.24 234.84 L586.86 234.53 L587.49 234.21 L588.12 233.90 L588.74 233.59 L589.37 233.27 L590.00 232.96 L590.62 232.65 L591.25 232.33 L591.87 232.02 L592.50 231.70 L593.12 231.38 L593.74 231.07 L594.37 230.75 L594.99 230.43 L595.61 230.11 L596.24 229.79 L596.86 229.47 L597.48 229.15 L598.10 228.82 L598.72 228.50 L599.34 228.18 L599.96 227.85 L600.58 227.52 L601.20 227.20 L601.82 226.87 L602.44 226.54 L603.06 226.21 L603.68 225.88 L604.29 225.55 L604.91 225.22 L605.53 224.89 L606.14 224.55 L606.76 224.22 L607.37 223.88 L607.99 223.55 L608.60 223.21 L609.22 222.88 L609.83 222.54 L610.44 222.20 L611.05 221.86 L611.67 221.52 L612.28 221.18 L612.89 220.84 L613.50 220.49 L614.11 220.15 L614.72 219.81 L615.33 219.46 L615.94 219.12 L616.55 218.77 L617.16 218.43 L617.77 218.08 L618.37 217.73 L618.98 217.38 L619.59 217.04 L620.20 216.69 L620.80 216.34 L621.41 215.99 L622.01 215.64 L622.62 215.29 L623.23 214.93 L623.83 214.58 L624.43 214.23 L625.04 213.87 L625.64 213.52 L626.25 213.17 L626.85 212.81 L627.45 212.46 L628.06 212.10 L628.66 211.74 L629.26 211.39 L629.86 211.03 L630.47 210.67 L631.07 210.31 L631.67 209.96 L632.27 209.60 L632.87 209.24 L633.47 208.88 L634.07 208.52 L634.67 208.15 L635.27 207.79 L635.87 207.43 L636.47 207.07 L637.07 206.70 L637.66 206.34 L638.26 205.97 L638.86 205.61 L639.46 205.24 L640.05 204.88 L640.65 204.51 L641.25 204.14 L641.84 203.77 L642.44 203.40 L643.03 203.03 L643.62 202.66 L644.22 202.29 L644.81 201.92 L645.40 201.54 L646.00 201.17 L646.59 200.80 L647.18 200.42 L647.77 200.04 L648.36 199.67 L648.95 199.29 L649.54 198.91 L650.12 198.53 L650.71 198.15 L651.30 197.76 L651.88 197.38 L652.47 197.00 L653.05 196.61 L653.64 196.22 L654.22 195.83 L654.80 195.44 L655.38 195.05 L655.97 194.66 L656.54 194.27 L657.12 193.87 L657.70 193.48 L658.28 193.08 L658.85 192.68 L659.43 192.28 L660.00 191.88 L660.58 191.48 L661.15 191.07 L661.72 190.67 L662.29 190.26 L662.86 189.85 L663.42 189.44 L663.99 189.02 L664.56 188.61 L665.12 188.19 L665.68 187.77 L666.24 187.36 L666.80 186.93 L667.36 186.51 L667.92 186.09 L668.48 185.66 L669.03 185.23 L669.58 184.80 L670.13 184.37 L670.68 183.93 L671.23 183.50 L671.78 183.06 L672.33 182.62 L672.87 182.18 L673.41 181.73 L673.95 181.29 L674.49 180.84 L675.03 180.39 L675.57 179.94 L676.10 179.48 L676.63 179.03 L677.16 178.57 L677.69 178.11 L678.22 177.65 L678.75 177.18 L679.27 176.72 L679.79 176.25 L680.31 175.78 L680.83 175.31 L681.35 174.83 L681.86 174.36 L682.38 173.88 L682.89 173.40 L683.40 172.92 L683.91 172.44 L684.41 171.95 L684.92 171.46 L685.42 170.97 L685.92 170.48 L686.42 169.99 L686.92 169.50 L687.41 169.00 L687.90 168.50 L688.40 168.00 L688.89 167.50 L689.37 167.00 L689.86 166.49 L690.34 165.98 L690.83 165.47 L691.31 164.96 L691.79 164.45 L692.26 163.94 L692.74 163.42 L693.21 162.90 L693.68 162.38 L694.15 161.86 L694.62 161.34 L695.09 160.82 L695.55 160.29 L696.02 159.77 L696.48 159.24 L696.94 158.71 L697.39 158.18 L697.85 157.64 L698.31 157.11 L698.76 156.58 L699.21 156.04 L699.66 155.50 L700.11 154.96 L700.55 154.42 L701.00 153.88 L701.44 153.34 L701.89 152.79 L702.33 152.25 L702.77 151.70 L703.20 151.15 L703.64 150.60 L704.07 150.05 L704.51 149.50 L704.94 148.95 L705.37 148.40 L705.80 147.84 L706.23 147.29 L706.66 146.73 L707.08 146.18 L707.51 145.62 L707.93 145.06 L708.35 144.50 L708.77 143.94 L709.19 143.38 L709.61 142.82 L710.03 142.26 L710.45 141.69 L710.86 141.13 L711.28 140.56 L711.69 140.00 L712.10 139.43 L712.52 138.86 L712.93 138.30 L713.34 137.73 L713.75 137.16 L714.15 136.59 L714.56 136.02 L714.97 135.45 L715.38 134.88 L715.78 134.31 L716.19 133.74 L716.59 133.16 L716.99 132.59 L717.40 132.02 L717.80 131.44 L718.20 130.87 L718.60 130.30 L719.00 129.72 L719.40 129.15 L719.80 128.57 L720.20 128.00 L720.60 127.42 L721.00 126.85 L721.40 126.27 L721.80 125.70 L722.20 125.12 L722.60 124.55 L723.00 123.97 L723.40 123.40 L723.79 122.82 L724.19 122.25 L724.59 121.67 L724.99 121.10 L725.39 120.52 L725.79 119.95 L726.19 119.37 L726.59 118.80 L726.99 118.22 L727.39 117.65 L727.79 117.08 L728.19 116.50 L728.59 115.93 L729.00 115.36 L729.40 114.79 L729.80 114.22 L730.21 113.65 L730.61 113.08 L731.02 112.51 L731.43 111.94 L731.84 111.38 L732.25 110.81 L732.66 110.25 L733.07 109.68 L733.49 109.12 L733.91 108.56 L734.32 108.00 L734.74 107.44 L735.16 106.88 L735.59 106.33 L736.01 105.77 L736.44 105.22 L736.87 104.67 L737.30 104.13 L737.74 103.58 L738.18 103.04 L738.62 102.50 L739.06 101.96 L739.51 101.42 L739.96 100.89 L740.42 100.36 L740.87 99.84 L741.34 99.32 L741.80 98.80 L742.28 98.29 L742.75 97.78 L743.24 97.28 L743.73 96.79 L744.22 96.30 L744.72 95.82 L745.23 95.34 L745.74 94.87 L746.27 94.42 L746.80 93.97 L747.34 93.54 L747.89 93.11 L748.45 92.71 L749.02 92.31 L749.61 91.94 L750.20 91.59 L750.81 91.25 L751.43 90.95 L752.07 90.68 L752.72 90.43 L753.38 90.23 L754.05 90.07 L754.74 89.96 L755.44 89.91 L756.14 89.91 L756.84 89.98 L757.53 90.11 L758.21 90.31 L758.87 90.57 L759.51 90.88 L760.13 91.25 L760.71 91.66 L761.27 92.11 L761.80 92.59 L762.31 93.10 L762.78 93.64 L763.24 94.19 L763.67 94.77 L764.09 95.35 L764.48 95.95 L764.86 96.56 L765.22 97.17 L765.56 97.80 L765.89 98.43 L766.21 99.07 L766.52 99.71 L766.82 100.35 L767.11 101.01 L767.38 101.66 L767.65 102.32 L767.91 102.98 L768.16 103.64 L768.41 104.31 L768.65 104.98 L768.88 105.65 L769.10 106.32 L769.32 107.00 L769.53 107.67 L769.74 108.35 L769.95 109.03 L770.14 109.71 L770.34 110.39 L770.53 111.07 L770.71 111.75 L770.89 112.43 L771.07 113.12 L771.24 113.80 L771.41 114.49 L771.58 115.18 L771.75 115.86 L771.91 116.55 L772.06 117.24 L772.22 117.93 L772.37 118.62 L772.52 119.31 L772.67 120.00 L772.81 120.69 L772.95 121.38 L773.09 122.07 L773.23 122.76 L773.36 123.45 L773.49 124.15 L773.63 124.84 L773.75 125.53 L773.88 126.23 L774.01 126.92 L774.13 127.61 L774.25 128.31 L774.37 129.00 L774.49 129.70 L774.60 130.39 L774.72 131.09 L774.83 131.78 L774.94 132.48 L775.05 133.17 L775.16 133.87 L775.27 134.56 L775.37 135.26 L775.48 135.96 L775.58 136.65 L775.68 137.35 L775.78 138.05 L775.88 138.74 L775.98 139.44 L776.08 140.14 L776.17 140.83 L776.27 141.53 L776.36 142.23 L776.46 142.93 L776.55 143.62 L776.64 144.32 L776.73 145.02 L776.82 145.72 L776.90 146.41 L776.99 147.11 L777.08 147.81 L777.16 148.51 L777.25 149.21 L777.33 149.90 L777.41 150.60 L777.49 151.30 L777.57 152.00 L777.65 152.70 L777.73 153.40 L777.81 154.09 L777.89 154.79 L777.97 155.49 L778.04 156.19 L778.12 156.89 L778.19 157.59 L778.27 158.29 L778.34 158.98 L778.41 159.68 L778.49 160.38 L778.56 161.08 L778.63 161.78 L778.70 162.48 L778.77 163.18 L778.84 163.88 L778.91 164.58 L778.98 165.28 L779.04 165.98 L779.11 166.68 L779.18 167.37 L779.24 168.07 L779.31 168.77 L779.37 169.47 L779.44 170.17 L779.50 170.87 L779.56 171.57 L779.63 172.27 L779.69 172.97 L779.75 173.67 L779.81 174.37 L779.87 175.07 L779.93 175.77 L779.99 176.47 L780.05 177.17 L780.11 177.87 L780.17 178.57 L780.23 179.27 L780.28 179.97 L780.34 180.67 L780.40 181.37 L780.45 182.07 L780.51 182.77 L780.57 183.47 L780.62 184.17 L780.68 184.86 L780.73 185.56 L780.79 186.26 L780.84 186.96 L780.89 187.66 L780.95 188.36 L781.00 189.06 L781.05 189.76 L781.10 190.46 L781.15 191.16 L781.21 191.86 L781.26 192.56 L781.31 193.26 L781.36 193.96 L781.41 194.66 L781.46 195.36 L781.51 196.06 L781.56 196.76 L781.60 197.46 L781.65 198.16 L781.70 198.86 L781.75 199.56 L781.80 200.26 L781.84 200.96 L781.89 201.66 L781.94 202.36 L781.98 203.06 L782.03 203.76 L782.08 204.46 L782.12 205.16 L782.17 205.87 L782.21 206.57 L782.26 207.27 L782.30 207.97 L782.35 208.67 L782.39 209.37 L782.43 210.07 L782.48 210.77 L782.52 211.47 L782.56 212.17 L782.61 212.87 L782.65 213.57 L782.69 214.27 L782.73 214.97 L782.78 215.67 L782.82 216.37 L782.86 217.07 L782.90 217.77 L782.94 218.47 L782.98 219.17 L783.02 219.87 L783.06 220.57 L783.10 221.27 L783.14 221.97 L783.18 222.67 L783.22 223.37 L783.26 224.07 L783.30 224.77 L783.34 225.47 L783.38 226.17 L783.42 226.87 L783.46 227.57 L783.49 228.27 L783.53 228.97 L783.57 229.67 L783.61 230.37 L783.64 231.07 L783.68 231.77 L783.72 232.47 L783.76 233.17 L783.79 233.87 L783.83 234.57 L783.86 235.27 L783.90 235.97 L783.94 236.67 L783.97 237.37 L784.01 238.08 L784.04 238.78 L784.08 239.48 L784.11 240.18 L784.15 240.88" stroke="#ff0000" stroke-width="1.5"/>
</g>
<path d="M59 0.45H817 M59 236.00H817 M59.50 0V236.5 M312.00 0V236.5 M564.55 0V236.5 M817 0V236.5" stroke="#111" stroke-width="1.05" fill="none"/>
<path d="M73.50 236.00v-2.1 M73.50 0.45v2.1 M83.43 236.00v-2.1 M83.43 0.45v2.1 M91.14 236.00v-2.1 M91.14 0.45v2.1 M97.43 236.00v-2.1 M97.43 0.45v2.1 M102.75 236.00v-2.1 M102.75 0.45v2.1 M107.36 236.00v-2.1 M107.36 0.45v2.1 M111.43 236.00v-2.1 M111.43 0.45v2.1 M115.07 236.00v-4.2 M115.07 0.45v4.2 M139.00 236.00v-2.1 M139.00 0.45v2.1 M153.00 236.00v-2.1 M153.00 0.45v2.1 M162.93 236.00v-2.1 M162.93 0.45v2.1 M170.64 236.00v-2.1 M170.64 0.45v2.1 M176.93 236.00v-2.1 M176.93 0.45v2.1 M182.25 236.00v-2.1 M182.25 0.45v2.1 M186.86 236.00v-2.1 M186.86 0.45v2.1 M190.93 236.00v-2.1 M190.93 0.45v2.1 M194.57 236.00v-4.2 M194.57 0.45v4.2 M218.50 236.00v-2.1 M218.50 0.45v2.1 M232.50 236.00v-2.1 M232.50 0.45v2.1 M242.43 236.00v-2.1 M242.43 0.45v2.1 M250.14 236.00v-2.1 M250.14 0.45v2.1 M256.43 236.00v-2.1 M256.43 0.45v2.1 M261.75 236.00v-2.1 M261.75 0.45v2.1 M266.36 236.00v-2.1 M266.36 0.45v2.1 M270.43 236.00v-2.1 M270.43 0.45v2.1 M274.07 236.00v-4.2 M274.07 0.45v4.2 M298.00 236.00v-2.1 M298.00 0.45v2.1 M326.00 236.00v-2.1 M326.00 0.45v2.1 M335.93 236.00v-2.1 M335.93 0.45v2.1 M343.64 236.00v-2.1 M343.64 0.45v2.1 M349.93 236.00v-2.1 M349.93 0.45v2.1 M355.25 236.00v-2.1 M355.25 0.45v2.1 M359.86 236.00v-2.1 M359.86 0.45v2.1 M363.93 236.00v-2.1 M363.93 0.45v2.1 M367.57 236.00v-4.2 M367.57 0.45v4.2 M391.50 236.00v-2.1 M391.50 0.45v2.1 M405.50 236.00v-2.1 M405.50 0.45v2.1 M415.43 236.00v-2.1 M415.43 0.45v2.1 M423.14 236.00v-2.1 M423.14 0.45v2.1 M429.43 236.00v-2.1 M429.43 0.45v2.1 M434.75 236.00v-2.1 M434.75 0.45v2.1 M439.36 236.00v-2.1 M439.36 0.45v2.1 M443.43 236.00v-2.1 M443.43 0.45v2.1 M447.07 236.00v-4.2 M447.07 0.45v4.2 M471.00 236.00v-2.1 M471.00 0.45v2.1 M485.00 236.00v-2.1 M485.00 0.45v2.1 M494.93 236.00v-2.1 M494.93 0.45v2.1 M502.64 236.00v-2.1 M502.64 0.45v2.1 M508.93 236.00v-2.1 M508.93 0.45v2.1 M514.25 236.00v-2.1 M514.25 0.45v2.1 M518.86 236.00v-2.1 M518.86 0.45v2.1 M522.93 236.00v-2.1 M522.93 0.45v2.1 M526.57 236.00v-4.2 M526.57 0.45v4.2 M550.50 236.00v-2.1 M550.50 0.45v2.1 M578.55 236.00v-2.1 M578.55 0.45v2.1 M588.48 236.00v-2.1 M588.48 0.45v2.1 M596.19 236.00v-2.1 M596.19 0.45v2.1 M602.48 236.00v-2.1 M602.48 0.45v2.1 M607.80 236.00v-2.1 M607.80 0.45v2.1 M612.41 236.00v-2.1 M612.41 0.45v2.1 M616.48 236.00v-2.1 M616.48 0.45v2.1 M620.12 236.00v-4.2 M620.12 0.45v4.2 M644.05 236.00v-2.1 M644.05 0.45v2.1 M658.05 236.00v-2.1 M658.05 0.45v2.1 M667.98 236.00v-2.1 M667.98 0.45v2.1 M675.69 236.00v-2.1 M675.69 0.45v2.1 M681.98 236.00v-2.1 M681.98 0.45v2.1 M687.30 236.00v-2.1 M687.30 0.45v2.1 M691.91 236.00v-2.1 M691.91 0.45v2.1 M695.98 236.00v-2.1 M695.98 0.45v2.1 M699.62 236.00v-4.2 M699.62 0.45v4.2 M723.55 236.00v-2.1 M723.55 0.45v2.1 M737.55 236.00v-2.1 M737.55 0.45v2.1 M747.48 236.00v-2.1 M747.48 0.45v2.1 M755.19 236.00v-2.1 M755.19 0.45v2.1 M761.48 236.00v-2.1 M761.48 0.45v2.1 M766.80 236.00v-2.1 M766.80 0.45v2.1 M771.41 236.00v-2.1 M771.41 0.45v2.1 M775.48 236.00v-2.1 M775.48 0.45v2.1 M779.12 236.00v-4.2 M779.12 0.45v4.2 M803.05 236.00v-2.1 M803.05 0.45v2.1 M59.50 223.99h2.1 M312.00 223.99h-2.1 M312.00 223.99h2.1 M564.55 223.99h-2.1 M564.55 223.99h2.1 M817.00 223.99h-2.1 M59.50 216.96h2.1 M312.00 216.96h-2.1 M312.00 216.96h2.1 M564.55 216.96h-2.1 M564.55 216.96h2.1 M817.00 216.96h-2.1 M59.50 211.98h2.1 M312.00 211.98h-2.1 M312.00 211.98h2.1 M564.55 211.98h-2.1 M564.55 211.98h2.1 M817.00 211.98h-2.1 M59.50 208.11h2.1 M312.00 208.11h-2.1 M312.00 208.11h2.1 M564.55 208.11h-2.1 M564.55 208.11h2.1 M817.00 208.11h-2.1 M59.50 204.95h2.1 M312.00 204.95h-2.1 M312.00 204.95h2.1 M564.55 204.95h-2.1 M564.55 204.95h2.1 M817.00 204.95h-2.1 M59.50 202.28h2.1 M312.00 202.28h-2.1 M312.00 202.28h2.1 M564.55 202.28h-2.1 M564.55 202.28h2.1 M817.00 202.28h-2.1 M59.50 199.97h2.1 M312.00 199.97h-2.1 M312.00 199.97h2.1 M564.55 199.97h-2.1 M564.55 199.97h2.1 M817.00 199.97h-2.1 M59.50 197.93h2.1 M312.00 197.93h-2.1 M312.00 197.93h2.1 M564.55 197.93h-2.1 M564.55 197.93h2.1 M817.00 197.93h-2.1 M59.50 196.10h4.2 M312.00 196.10h-4.2 M312.00 196.10h4.2 M564.55 196.10h-4.2 M564.55 196.10h4.2 M817.00 196.10h-4.2 M59.50 184.09h2.1 M312.00 184.09h-2.1 M312.00 184.09h2.1 M564.55 184.09h-2.1 M564.55 184.09h2.1 M817.00 184.09h-2.1 M59.50 177.06h2.1 M312.00 177.06h-2.1 M312.00 177.06h2.1 M564.55 177.06h-2.1 M564.55 177.06h2.1 M817.00 177.06h-2.1 M59.50 172.08h2.1 M312.00 172.08h-2.1 M312.00 172.08h2.1 M564.55 172.08h-2.1 M564.55 172.08h2.1 M817.00 172.08h-2.1 M59.50 168.21h2.1 M312.00 168.21h-2.1 M312.00 168.21h2.1 M564.55 168.21h-2.1 M564.55 168.21h2.1 M817.00 168.21h-2.1 M59.50 165.05h2.1 M312.00 165.05h-2.1 M312.00 165.05h2.1 M564.55 165.05h-2.1 M564.55 165.05h2.1 M817.00 165.05h-2.1 M59.50 162.38h2.1 M312.00 162.38h-2.1 M312.00 162.38h2.1 M564.55 162.38h-2.1 M564.55 162.38h2.1 M817.00 162.38h-2.1 M59.50 160.07h2.1 M312.00 160.07h-2.1 M312.00 160.07h2.1 M564.55 160.07h-2.1 M564.55 160.07h2.1 M817.00 160.07h-2.1 M59.50 158.03h2.1 M312.00 158.03h-2.1 M312.00 158.03h2.1 M564.55 158.03h-2.1 M564.55 158.03h2.1 M817.00 158.03h-2.1 M59.50 156.20h4.2 M312.00 156.20h-4.2 M312.00 156.20h4.2 M564.55 156.20h-4.2 M564.55 156.20h4.2 M817.00 156.20h-4.2 M59.50 144.19h2.1 M312.00 144.19h-2.1 M312.00 144.19h2.1 M564.55 144.19h-2.1 M564.55 144.19h2.1 M817.00 144.19h-2.1 M59.50 137.16h2.1 M312.00 137.16h-2.1 M312.00 137.16h2.1 M564.55 137.16h-2.1 M564.55 137.16h2.1 M817.00 137.16h-2.1 M59.50 132.18h2.1 M312.00 132.18h-2.1 M312.00 132.18h2.1 M564.55 132.18h-2.1 M564.55 132.18h2.1 M817.00 132.18h-2.1 M59.50 128.31h2.1 M312.00 128.31h-2.1 M312.00 128.31h2.1 M564.55 128.31h-2.1 M564.55 128.31h2.1 M817.00 128.31h-2.1 M59.50 125.15h2.1 M312.00 125.15h-2.1 M312.00 125.15h2.1 M564.55 125.15h-2.1 M564.55 125.15h2.1 M817.00 125.15h-2.1 M59.50 122.48h2.1 M312.00 122.48h-2.1 M312.00 122.48h2.1 M564.55 122.48h-2.1 M564.55 122.48h2.1 M817.00 122.48h-2.1 M59.50 120.17h2.1 M312.00 120.17h-2.1 M312.00 120.17h2.1 M564.55 120.17h-2.1 M564.55 120.17h2.1 M817.00 120.17h-2.1 M59.50 118.13h2.1 M312.00 118.13h-2.1 M312.00 118.13h2.1 M564.55 118.13h-2.1 M564.55 118.13h2.1 M817.00 118.13h-2.1 M59.50 116.30h4.2 M312.00 116.30h-4.2 M312.00 116.30h4.2 M564.55 116.30h-4.2 M564.55 116.30h4.2 M817.00 116.30h-4.2 M59.50 104.29h2.1 M312.00 104.29h-2.1 M312.00 104.29h2.1 M564.55 104.29h-2.1 M564.55 104.29h2.1 M817.00 104.29h-2.1 M59.50 97.26h2.1 M312.00 97.26h-2.1 M312.00 97.26h2.1 M564.55 97.26h-2.1 M564.55 97.26h2.1 M817.00 97.26h-2.1 M59.50 92.28h2.1 M312.00 92.28h-2.1 M312.00 92.28h2.1 M564.55 92.28h-2.1 M564.55 92.28h2.1 M817.00 92.28h-2.1 M59.50 88.41h2.1 M312.00 88.41h-2.1 M312.00 88.41h2.1 M564.55 88.41h-2.1 M564.55 88.41h2.1 M817.00 88.41h-2.1 M59.50 85.25h2.1 M312.00 85.25h-2.1 M312.00 85.25h2.1 M564.55 85.25h-2.1 M564.55 85.25h2.1 M817.00 85.25h-2.1 M59.50 82.58h2.1 M312.00 82.58h-2.1 M312.00 82.58h2.1 M564.55 82.58h-2.1 M564.55 82.58h2.1 M817.00 82.58h-2.1 M59.50 80.27h2.1 M312.00 80.27h-2.1 M312.00 80.27h2.1 M564.55 80.27h-2.1 M564.55 80.27h2.1 M817.00 80.27h-2.1 M59.50 78.23h2.1 M312.00 78.23h-2.1 M312.00 78.23h2.1 M564.55 78.23h-2.1 M564.55 78.23h2.1 M817.00 78.23h-2.1 M59.50 76.40h4.2 M312.00 76.40h-4.2 M312.00 76.40h4.2 M564.55 76.40h-4.2 M564.55 76.40h4.2 M817.00 76.40h-4.2 M59.50 64.39h2.1 M312.00 64.39h-2.1 M312.00 64.39h2.1 M564.55 64.39h-2.1 M564.55 64.39h2.1 M817.00 64.39h-2.1 M59.50 57.36h2.1 M312.00 57.36h-2.1 M312.00 57.36h2.1 M564.55 57.36h-2.1 M564.55 57.36h2.1 M817.00 57.36h-2.1 M59.50 52.38h2.1 M312.00 52.38h-2.1 M312.00 52.38h2.1 M564.55 52.38h-2.1 M564.55 52.38h2.1 M817.00 52.38h-2.1 M59.50 48.51h2.1 M312.00 48.51h-2.1 M312.00 48.51h2.1 M564.55 48.51h-2.1 M564.55 48.51h2.1 M817.00 48.51h-2.1 M59.50 45.35h2.1 M312.00 45.35h-2.1 M312.00 45.35h2.1 M564.55 45.35h-2.1 M564.55 45.35h2.1 M817.00 45.35h-2.1 M59.50 42.68h2.1 M312.00 42.68h-2.1 M312.00 42.68h2.1 M564.55 42.68h-2.1 M564.55 42.68h2.1 M817.00 42.68h-2.1 M59.50 40.37h2.1 M312.00 40.37h-2.1 M312.00 40.37h2.1 M564.55 40.37h-2.1 M564.55 40.37h2.1 M817.00 40.37h-2.1 M59.50 38.33h2.1 M312.00 38.33h-2.1 M312.00 38.33h2.1 M564.55 38.33h-2.1 M564.55 38.33h2.1 M817.00 38.33h-2.1 M59.50 36.50h4.2 M312.00 36.50h-4.2 M312.00 36.50h4.2 M564.55 36.50h-4.2 M564.55 36.50h4.2 M817.00 36.50h-4.2 M59.50 24.49h2.1 M312.00 24.49h-2.1 M312.00 24.49h2.1 M564.55 24.49h-2.1 M564.55 24.49h2.1 M817.00 24.49h-2.1 M59.50 17.46h2.1 M312.00 17.46h-2.1 M312.00 17.46h2.1 M564.55 17.46h-2.1 M564.55 17.46h2.1 M817.00 17.46h-2.1 M59.50 12.48h2.1 M312.00 12.48h-2.1 M312.00 12.48h2.1 M564.55 12.48h-2.1 M564.55 12.48h2.1 M817.00 12.48h-2.1 M59.50 8.61h2.1 M312.00 8.61h-2.1 M312.00 8.61h2.1 M564.55 8.61h-2.1 M564.55 8.61h2.1 M817.00 8.61h-2.1 M59.50 5.45h2.1 M312.00 5.45h-2.1 M312.00 5.45h2.1 M564.55 5.45h-2.1 M564.55 5.45h2.1 M817.00 5.45h-2.1 M59.50 2.78h2.1 M312.00 2.78h-2.1 M312.00 2.78h2.1 M564.55 2.78h-2.1 M564.55 2.78h2.1 M817.00 2.78h-2.1" stroke="#000" stroke-width="0.72" fill="none"/>
<g class="t" font-size="14" fill="#000" stroke="#fff" stroke-width="0.22" style="filter:grayscale(1)">
<text x="25.9" y="40.8" textLength="26.3" lengthAdjust="spacingAndGlyphs">1000</text>
<text x="32.3" y="80.7" textLength="19.9" lengthAdjust="spacingAndGlyphs">100</text>
<text x="39.0" y="120.6" textLength="13.2" lengthAdjust="spacingAndGlyphs">10</text>
<text x="45.6" y="160.5" textLength="6.6" lengthAdjust="spacingAndGlyphs">1</text>
<text x="35.0" y="200.4" textLength="17.2" lengthAdjust="spacingAndGlyphs">0.1</text>
<text x="28.3" y="240.3" textLength="23.9" lengthAdjust="spacingAndGlyphs">0.01</text>
<text x="114.2" y="251.2" textLength="6.0" lengthAdjust="spacingAndGlyphs">1</text>
<text x="190.6" y="251.2" textLength="13.4" lengthAdjust="spacingAndGlyphs">10</text>
<text x="266.4" y="251.2" textLength="19.8" lengthAdjust="spacingAndGlyphs">100</text>
<text x="164.6" y="268.3">R</text>
<path d="M174.70 271.9L180.20 257.9" stroke="#222" stroke-width="0.8" fill="none"/>
<text x="181.9" y="268.3" textLength="11.1" lengthAdjust="spacingAndGlyphs">M</text>
<text x="193.4" y="268.3">p</text>
<text x="200.4" y="268.3" textLength="7.2" lengthAdjust="spacingAndGlyphs">c</text>
<text x="366.7" y="251.2" textLength="6.0" lengthAdjust="spacingAndGlyphs">1</text>
<text x="443.1" y="251.2" textLength="13.4" lengthAdjust="spacingAndGlyphs">10</text>
<text x="518.9" y="251.2" textLength="19.8" lengthAdjust="spacingAndGlyphs">100</text>
<text x="417.1" y="268.3">R</text>
<path d="M427.20 271.9L432.70 257.9" stroke="#222" stroke-width="0.8" fill="none"/>
<text x="434.4" y="268.3" textLength="11.1" lengthAdjust="spacingAndGlyphs">M</text>
<text x="445.9" y="268.3">p</text>
<text x="452.9" y="268.3" textLength="7.2" lengthAdjust="spacingAndGlyphs">c</text>
<text x="619.2" y="251.2" textLength="6.0" lengthAdjust="spacingAndGlyphs">1</text>
<text x="695.6" y="251.2" textLength="13.4" lengthAdjust="spacingAndGlyphs">10</text>
<text x="771.4" y="251.2" textLength="19.8" lengthAdjust="spacingAndGlyphs">100</text>
<text x="669.6" y="268.3">R</text>
<path d="M679.75 271.9L685.25 257.9" stroke="#222" stroke-width="0.8" fill="none"/>
<text x="686.9" y="268.3" textLength="11.1" lengthAdjust="spacingAndGlyphs">M</text>
<text x="698.4" y="268.3">p</text>
<text x="705.4" y="268.3" textLength="7.2" lengthAdjust="spacingAndGlyphs">c</text>
<text x="84.7" y="27.4" textLength="42.3" lengthAdjust="spacingAndGlyphs">ΛCDM</text>
<text x="337.0" y="27.4" textLength="19.4" lengthAdjust="spacingAndGlyphs">RP</text>
<text x="589.7" y="27.4" textLength="48.4" lengthAdjust="spacingAndGlyphs">SUGRA</text>
<text x="84.1" y="43.5">z</text>
<text x="91.4" y="43.5" textLength="9.3" lengthAdjust="spacingAndGlyphs">=</text>
<text x="100.8" y="43.5" textLength="14.7" lengthAdjust="spacingAndGlyphs">13</text>
<text x="336.6" y="43.5">z</text>
<text x="343.9" y="43.5" textLength="9.3" lengthAdjust="spacingAndGlyphs">=</text>
<text x="353.3" y="43.5" textLength="14.7" lengthAdjust="spacingAndGlyphs">13</text>
<text x="589.1" y="43.5">z</text>
<text x="596.4" y="43.5" textLength="9.3" lengthAdjust="spacingAndGlyphs">=</text>
<text x="605.8" y="43.5" textLength="14.7" lengthAdjust="spacingAndGlyphs">13</text>
<g transform="translate(11.8,152) rotate(-90)"><text x="0" y="0" textLength="10" lengthAdjust="spacingAndGlyphs">V</text><text x="10.3" y="-5.2" font-size="9.5" textLength="7.6" lengthAdjust="spacingAndGlyphs">−</text><text x="17.5" y="-5.2" font-size="9.5">1</text><text x="29" y="0" textLength="8" lengthAdjust="spacingAndGlyphs">d</text><text x="35.9" y="0" textLength="10.3" lengthAdjust="spacingAndGlyphs">V</text><path d="M44.9 2.5L52.7 -10.7" stroke="#222" stroke-width="0.8" fill="none"/><text x="52.8" y="0" textLength="8" lengthAdjust="spacingAndGlyphs">d</text><text x="60.4" y="0">z</text></g>
</g>
</svg>
</body></html>
